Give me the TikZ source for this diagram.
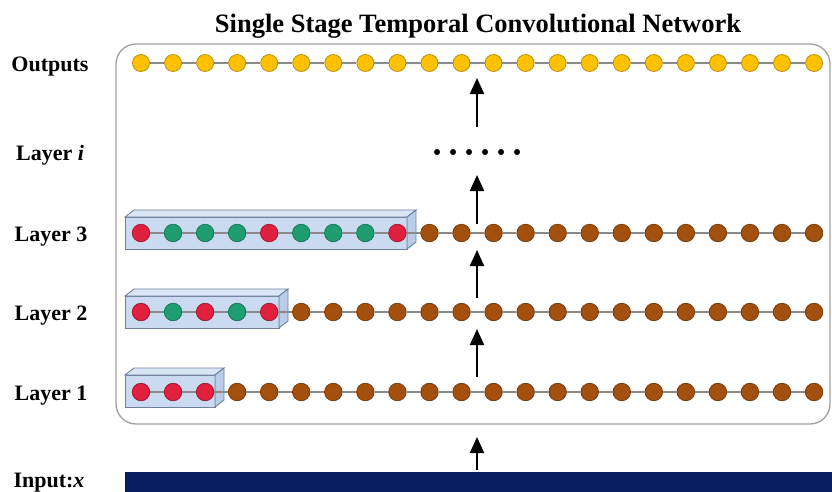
\documentclass[tikz,border=0pt]{standalone}
\usepackage{fontspec}
\setmainfont{Liberation Serif}
\usetikzlibrary{arrows.meta}
\definecolor{ycol}{HTML}{FFC000}
\definecolor{ybrd}{HTML}{B8900A}
\definecolor{bcol}{HTML}{A3500E}
\definecolor{bbrd}{HTML}{7A3C08}
\definecolor{rcol}{HTML}{E0203F}
\definecolor{rbrd}{HTML}{A8182F}
\definecolor{gcol}{HTML}{1E9E6E}
\definecolor{gbrd}{HTML}{15765A}
\definecolor{boxfront}{HTML}{C4D7F0}
\definecolor{boxtop}{HTML}{D6E3F5}
\definecolor{boxside}{HTML}{B3C8E6}
\definecolor{boxbrd}{HTML}{6F7F9C}
\definecolor{framec}{HTML}{A0A0A0}
\definecolor{linec}{HTML}{8A8A8A}
\definecolor{navy}{HTML}{061E5E}
\newcommand\convbox[3]{%
  \filldraw[boxpart, fill=boxfront] (#1,#3-16) rectangle (#2,#3+16);
  \filldraw[boxpart, fill=boxtop] (#1,#3-16) -- (#1+9,#3-23) -- (#2+9,#3-23) -- (#2,#3-16) -- cycle;
  \filldraw[boxpart, fill=boxside] (#2,#3-16) -- (#2+9,#3-23) -- (#2+9,#3+9) -- (#2,#3+16) -- cycle;
}
\begin{document}
\begin{tikzpicture}[x=1pt,y=-1pt,
  cell/.style={circle, minimum size=17.5pt, inner sep=0pt, line width=0.8pt, draw},
  cY/.style={fill=ycol, draw=ybrd, minimum size=17pt},
  cB/.style={fill=bcol, draw=bbrd},
  cR/.style={fill=rcol, draw=rbrd},
  cG/.style={fill=gcol, draw=gbrd},
  link/.style={draw=linec, line width=1.1pt},
  boxpart/.style={draw=boxbrd, line width=0.9pt, fill opacity=0.9},
  lab/.style={anchor=base, font=\fontsize{22}{26}\selectfont\bfseries},
  uparrow/.style={line width=2pt, -{Triangle[length=16pt,width=14pt]}},
  dot/.style={circle, fill=black, minimum size=6pt, inner sep=0pt}
]
\useasboundingbox (0,0) rectangle (832,491);

% title
\node[lab, font=\fontsize{26.5}{30}\selectfont\bfseries] (title) at (478,32) {Single Stage Temporal Convolutional Network};

% frame
\draw[framec, line width=1.3pt, rounded corners=20pt] (116,44) rectangle (830,424);

% input bar
\fill[navy] (125,472) rectangle (834,495);
\node[inner sep=0pt, minimum size=0pt] (input) at (477,472) {};

% labels
\node[lab] (lout) at (50,71.5) {Outputs};
\node[lab] (li) at (50,160) {Layer \textit{i}};
\node[lab] (l3) at (51,241) {Layer 3};
\node[lab] (l2) at (51,320) {Layer 2};
\node[lab] (l1) at (51,400) {Layer 1};
\node[lab] (lin) at (49,487) {Input:\textit{x}};

% boxes
\convbox{125}{407}{233}
\convbox{125}{279}{312}
\convbox{125}{215}{391}

% outputs
\foreach \i in {1,...,22}{
  \node[cell, cY] (o\i) at ({141+32.05*(\i-1)},63) {};
}
% layer 3
\foreach \c [count=\i] in {R,G,G,G,R,G,G,G,R,B,B,B,B,B,B,B,B,B,B,B,B,B}{
  \node[cell, c\c] (a\i) at ({141+32.05*(\i-1)},233) {};
}
% layer 2
\foreach \c [count=\i] in {R,G,R,G,R,B,B,B,B,B,B,B,B,B,B,B,B,B,B,B,B,B}{
  \node[cell, c\c] (b\i) at ({141+32.05*(\i-1)},312) {};
}
% layer 1
\foreach \c [count=\i] in {R,R,R,B,B,B,B,B,B,B,B,B,B,B,B,B,B,B,B,B,B,B}{
  \node[cell, c\c] (c\i) at ({141+32.05*(\i-1)},392) {};
}
\foreach \i [evaluate=\i as \j using int(\i+1)] in {1,...,21}{
  \draw[link] (o\i) -- (o\j);
  \draw[link] (a\i) -- (a\j);
  \draw[link] (b\i) -- (b\j);
  \draw[link] (c\i) -- (c\j);
}

% dots
\foreach \k in {0,...,5}{
  \node[dot] (d\k) at ({437+16*\k},152) {};
}

% arrows
\coordinate (s0) at (477,127); \coordinate (t0) at (477,78);
\coordinate (s1) at (477,224); \coordinate (t1) at (477,175);
\coordinate (s2) at (477,298); \coordinate (t2) at (477,250);
\coordinate (s3) at (477,377); \coordinate (t3) at (477,329);
\coordinate (t4) at (477,437);
\draw[uparrow] (s0) -- (t0);
\draw[uparrow] (s1) -- (t1);
\draw[uparrow] (s2) -- (t2);
\draw[uparrow] (s3) -- (t3);
\draw[uparrow] ([yshift=2pt]input.center) -- (t4);
\end{tikzpicture}
\end{document}
